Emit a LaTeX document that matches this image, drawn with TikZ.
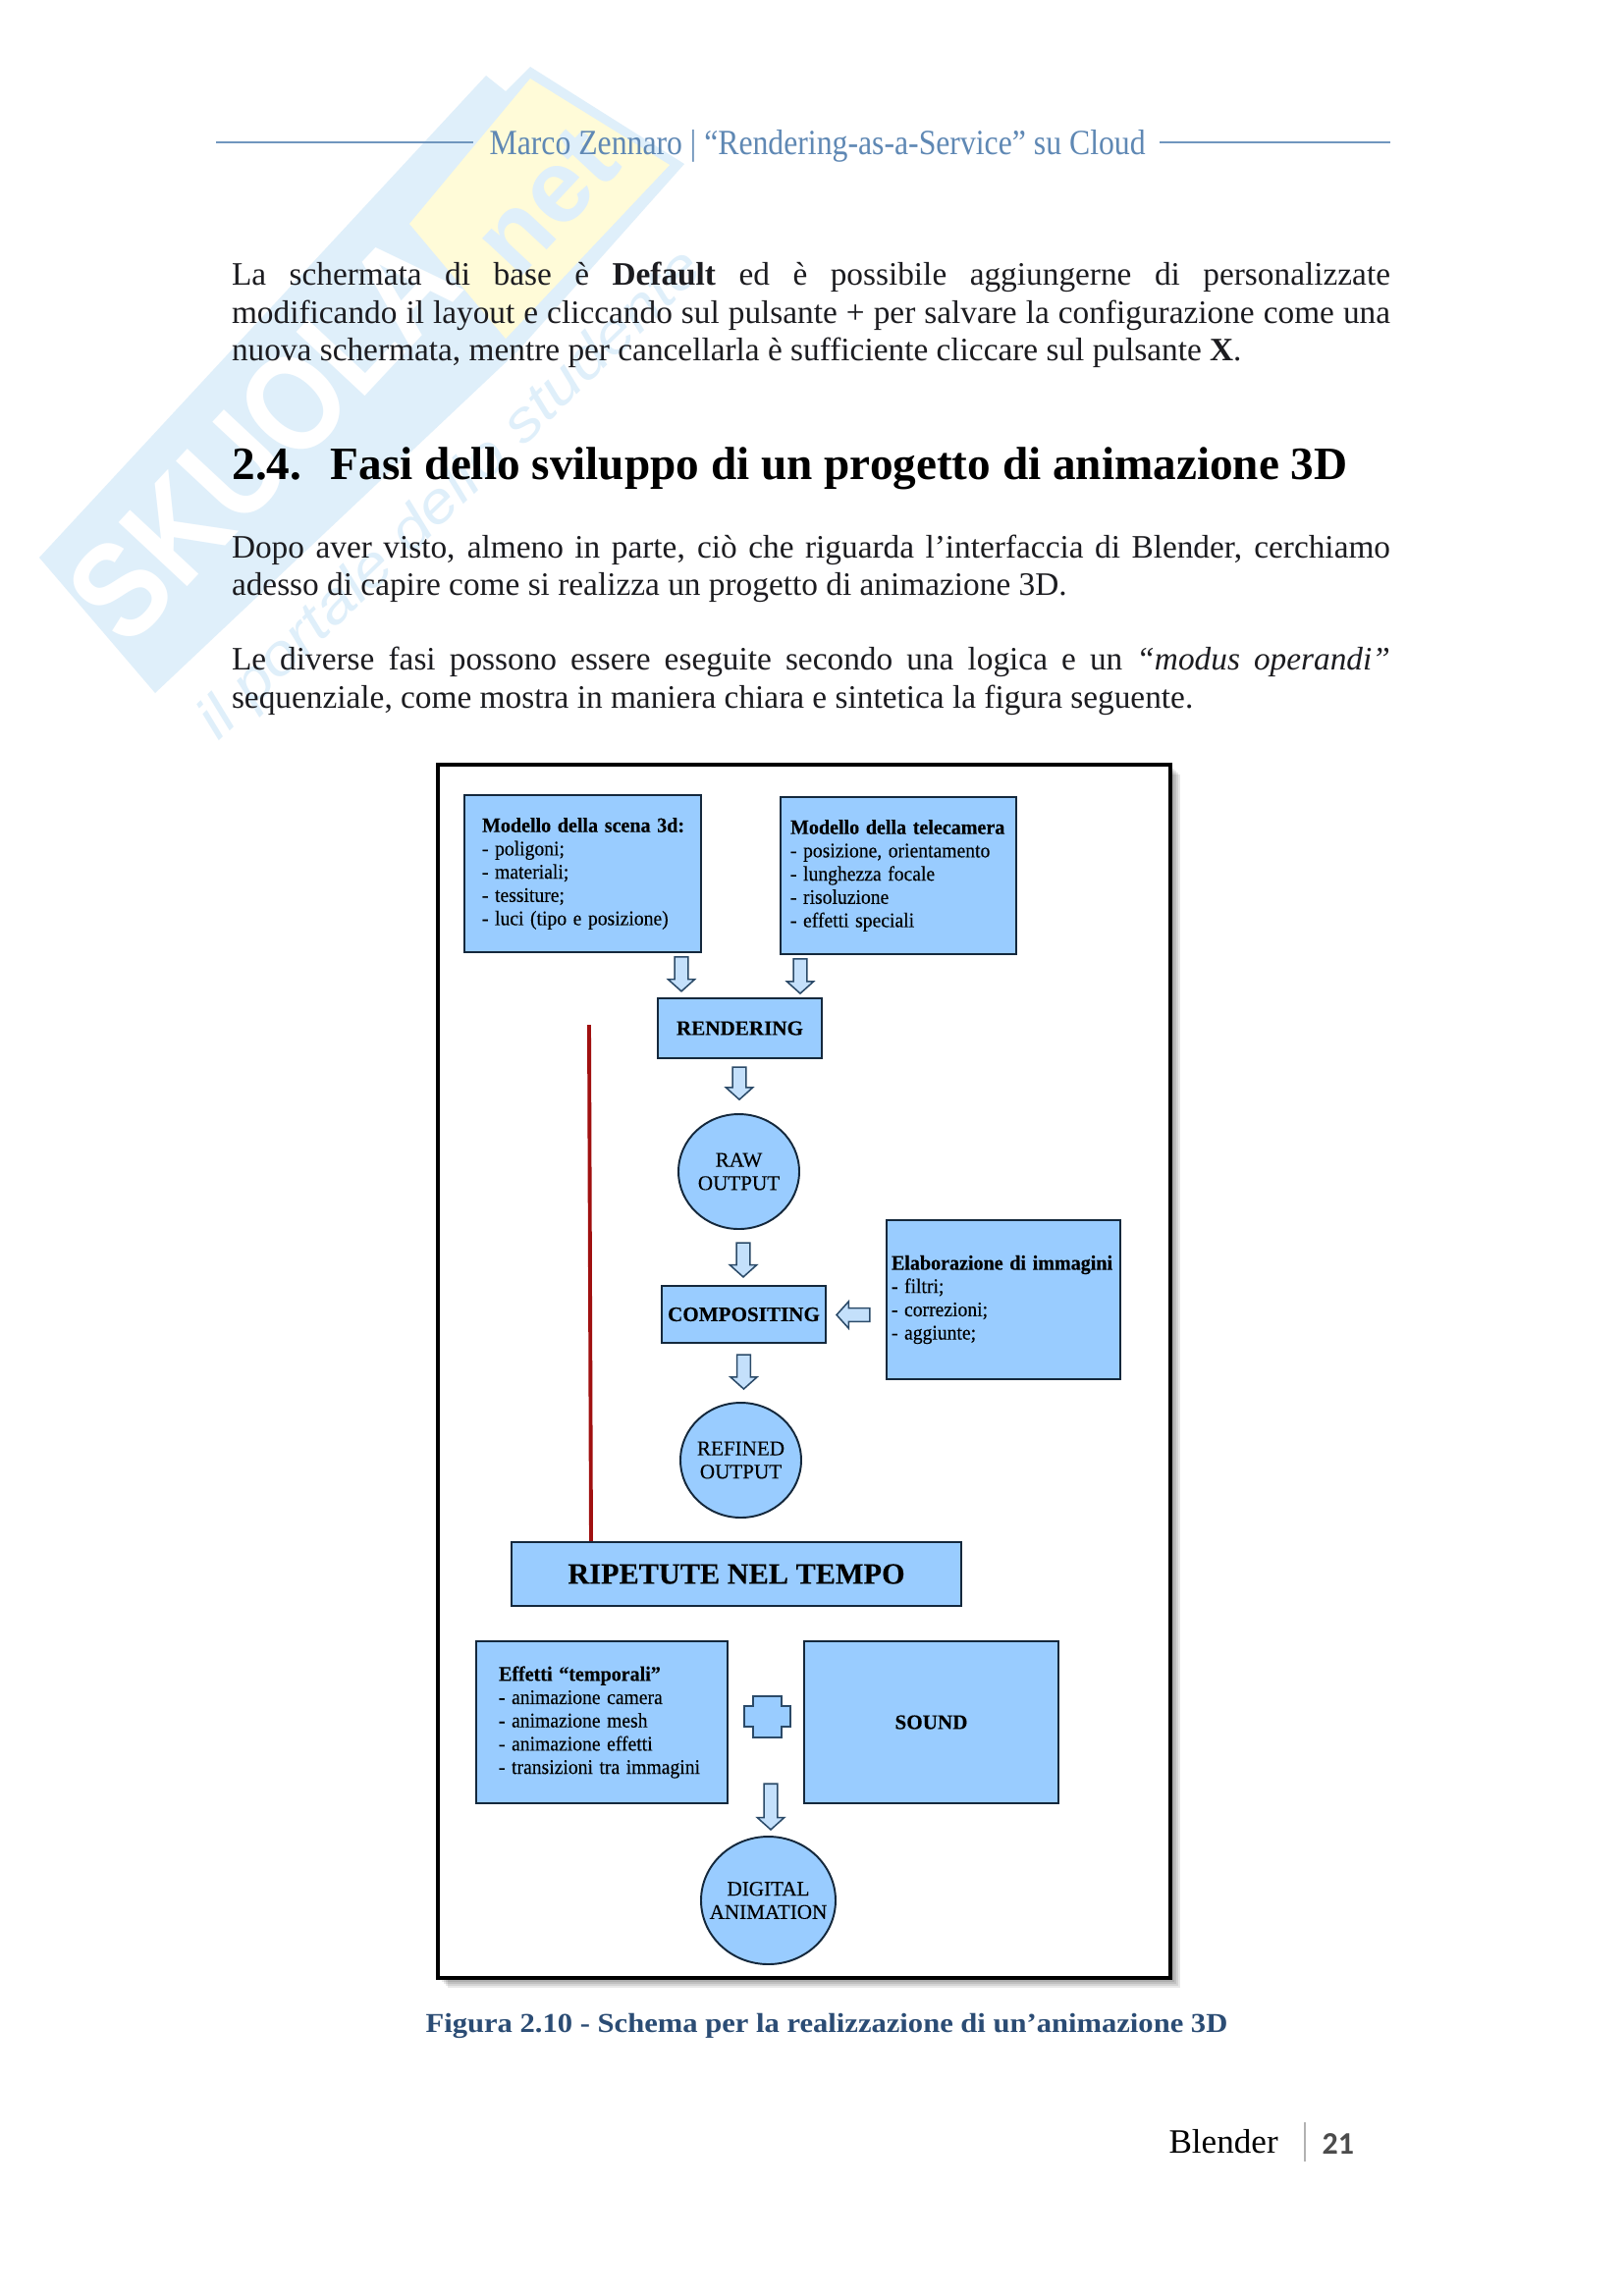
\documentclass[tikz,border=0pt]{standalone}
\usepackage{fontspec}
\usepackage{graphicx}
\setmainfont{Liberation Serif}
\newfontfamily\wmfont{Liberation Sans}
\newfontfamily\pagenum{Carlito}
\newfontfamily\boxrm[FakeBold=0.2]{Liberation Serif}
\usetikzlibrary{shapes.geometric,calc}
\definecolor{boxfill}{HTML}{99CCFF}
\definecolor{boxline}{HTML}{14283C}
\definecolor{arrowfill}{HTML}{C4E0FB}
\definecolor{arrowline}{HTML}{2B4A68}
\definecolor{headblue}{HTML}{5F88B4}
\definecolor{rulecol}{HTML}{7096BE}
\definecolor{wmblue}{HTML}{DFEFFA}
\definecolor{wmyellow}{HTML}{FFFBD8}
\definecolor{capblue}{HTML}{2B4C74}
\definecolor{bodyink}{HTML}{1C1C20}
\definecolor{redline}{HTML}{A01010}
\newcommand{\boxfont}{\boxrm\fontsize{7.6}{8.53}\selectfont}
\newcommand{\sq}[1]{\scalebox{0.93}[1]{#1}}
\newcommand{\sqb}[1]{\scalebox{0.95}[1]{\textbf{#1}}}
\tikzset{
  bodyline/.style={anchor=base west,inner sep=0pt,outer sep=0pt,text=bodyink,font=\fontsize{12}{14}\selectfont},
  bluebox/.style n args={2}{draw=boxline,line width=0.75pt,fill=boxfill,rectangle,inner sep=0pt,align=left,
     font=\boxfont,text=black,minimum width=#1*0.36pt,minimum height=#2*0.36pt},
  blueoval/.style n args={2}{draw=boxline,line width=0.7pt,fill=boxfill,ellipse,inner sep=-8pt,align=center,
     font=\boxfont,text=black,minimum width=#1*0.36pt,minimum height=#2*0.36pt},
  barrow/.style n args={2}{draw=arrowline,line width=0.55pt,fill=arrowfill,line join=miter,
     to path={let \p1=(\tikztostart),\p2=(\tikztotarget),\n1={atan2(\y2-\y1,\x2-\x1)} in
       ([shift={(\n1:#1)},shift={(\n1+90:2.5pt)}]\p1)
       -- ([shift={(\n1:-#2-4.4pt)},shift={(\n1+90:2.5pt)}]\p2)
       -- ([shift={(\n1:-#2-4.4pt)},shift={(\n1+90:4.9pt)}]\p2)
       -- ([shift={(\n1:-#2)}]\p2)
       -- ([shift={(\n1:-#2-4.4pt)},shift={(\n1-90:4.9pt)}]\p2)
       -- ([shift={(\n1:-#2-4.4pt)},shift={(\n1-90:2.5pt)}]\p2)
       -- ([shift={(\n1:#1)},shift={(\n1-90:2.5pt)}]\p1) -- cycle}},
  wmark/.style={inner sep=0pt,outer sep=0pt}
}
\begin{document}
\begin{tikzpicture}[x=0.36pt,y=-0.36pt]
\useasboundingbox[fill=white] (0,0) rectangle (1653,2339);
% watermark
\fill[wmblue] (40,568) -- (495,77) -- (515,93) -- (540,68) -- (697,167) -- (528,357) -- (158,706) -- cycle;
\fill[wmyellow] (540,80) -- (682,168) -- (515,345) -- (417,228) -- cycle;
\node[wmark,text=white,rotate=47,font=\wmfont\bfseries\fontsize{50}{50}\selectfont] (wmskuola) at (268,445) {\scalebox{0.86}[1]{SKUOLA}};
\node[wmark,text=wmblue,rotate=47,font=\wmfont\bfseries\fontsize{38}{38}\selectfont] (wmnet) at (557,205) {net};
\node[wmark,text=wmblue,rotate=44,font=\wmfont\itshape\fontsize{21}{21}\selectfont] (wmsub) at (460,505) {\scalebox{1.15}[1]{il portale dello studente}};
% header
\draw[rulecol,line width=0.75pt] (220,145) -- (482,145);
\draw[rulecol,line width=0.75pt] (1181,145) -- (1416,145);
\node[anchor=base west,inner sep=0pt,text=headblue] (head) at (498,157) {\resizebox{240.5pt}{\height}{\fontsize{13}{15}\selectfont Marco Zennaro | “Rendering-as-a-Service” su Cloud}};
% body
\node[bodyline] (l1) at (236,290) {\hbox to 424.8pt{La schermata di base è \textbf{Default} ed è possibile aggiungerne di personalizzate}};
\node[bodyline] (l2) at (236,329) {\hbox to 424.8pt{modificando il layout e cliccando sul pulsante + per salvare la configurazione come una}};
\node[bodyline] (l3) at (236,367.5) {nuova schermata, mentre per cancellarla è sufficiente cliccare sul pulsante \textbf{X}.};
\node[anchor=base west,inner sep=0pt,text=black,font=\bfseries\fontsize{17}{19}\selectfont] (h24) at (236,488) {2.4.\hspace{5pt} Fasi dello sviluppo di un progetto di animazione 3D};
\node[bodyline] (l4) at (236,568) {\hbox to 424.8pt{Dopo aver visto, almeno in parte, ciò che riguarda l’interfaccia di Blender, cerchiamo}};
\node[bodyline] (l5) at (236,606) {adesso di capire come si realizza un progetto di animazione 3D.};
\node[bodyline] (l6) at (236,682) {\hbox to 424.8pt{Le diverse fasi possono essere eseguite secondo una logica e un \textit{“modus operandi”}}};
\node[bodyline] (l7) at (236,721) {sequenziale, come mostra in maniera chiara e sintetica la figura seguente.};
% frame with soft shadow
\foreach \d in {10,8,6,4,2}{\fill[black,opacity=0.09] (446+\d,779+\d) rectangle (1192+\d,2015+\d);}
\node[draw=black,line width=1.1pt,fill=white,rectangle,inner sep=0pt,minimum width=746*0.36pt,minimum height=1236*0.36pt] (frame) at (819,1397) {};
% boxes
\node[bluebox={241}{160},text width=73.8pt] (scene) at (593.5,890) {\sqb{Modello della scena 3d:}\\\sq{- poligoni;}\\\sq{- materiali;}\\\sq{- tessiture;}\\\sq{- luci (tipo e posizione)}};
\node[bluebox={240}{160},text width=79.2pt] (camera) at (915,892) {\sqb{Modello della telecamera}\\\sq{- posizione, orientamento}\\\sq{- lunghezza focale}\\\sq{- risoluzione}\\\sq{- effetti speciali}};
\node[bluebox={167}{61},align=center] (render) at (753.5,1047.5) {\textbf{RENDERING}};
\node[blueoval={123}{117}] (raw) at (752.5,1193.5) {RAW\\OUTPUT};
\node[bluebox={167}{58},align=center] (comp) at (757.5,1339) {\textbf{COMPOSITING}};
\node[bluebox={238}{162},text width=82.1pt] (elab) at (1022,1324) {\sqb{Elaborazione di immagini}\\\sq{- filtri;}\\\sq{- correzioni;}\\\sq{- aggiunte;}};
\node[blueoval={123}{117}] (refined) at (754.5,1487.5) {REFINED\\OUTPUT};
\node[bluebox={458}{65},align=center,font=\boxrm\bfseries\fontsize{10.9}{12}\selectfont] (ripet) at (750,1603.5) {RIPETUTE NEL TEMPO};
\node[bluebox={256}{165},text width=75.6pt] (effetti) at (613,1754.5) {\sqb{Effetti “temporali”}\\\sq{- animazione camera}\\\sq{- animazione mesh}\\\sq{- animazione effetti}\\\sq{- transizioni tra immagini}};
\node[bluebox={259}{165},align=center] (sound) at (948.5,1754.5) {\textbf{SOUND}};
\node[blueoval={137}{130}] (digital) at (782.5,1936) {DIGITAL\\ANIMATION};
% plus sign
\draw[draw=arrowline,line width=0.55pt,fill=boxfill] (767,1728) -- (796,1728) -- (796,1738) -- (805,1738) -- (805,1759) -- (796,1759) -- (796,1770) -- (767,1770) -- (767,1759) -- (758,1759) -- (758,1738) -- (767,1738) -- cycle;
\coordinate (plusb) at (785,1770);
% arrow axes
\coordinate (ax1) at (694,0);
\coordinate (ax2) at (815,0);
\coordinate (ax3) at (753,0);
\coordinate (ax4) at (757,0);
\coordinate (ax5) at (757.5,0);
\coordinate (ay6) at (0,1339.5);
% block arrows
\draw[barrow={1.4pt}{2.2pt}] (scene.south -| ax1) to (render.north -| ax1);
\draw[barrow={1.4pt}{1.4pt}] (camera.south -| ax2) to (render.north -| ax2);
\draw[barrow={2.9pt}{5pt}] (render.south -| ax3) to (raw.north -| ax3);
\draw[barrow={4.7pt}{2.9pt}] (raw.south -| ax4) to (comp.north -| ax4);
\draw[barrow={4pt}{4.7pt}] (comp.south -| ax5) to (refined.north -| ax5);
\draw[barrow={5.8pt}{3.6pt}] (elab.west |- ay6) to (comp.east |- ay6);
\draw[barrow={17pt}{2.2pt}] (plusb) to (digital.north -| plusb);
% red line
\coordinate (redtop) at (600,1044);
\coordinate (redbot) at (602,1570);
\draw[redline,line width=1.4pt] (redtop) -- (ripet.north -| redbot);
% caption
\node[anchor=base,inner sep=0pt,text=capblue] (caption) at (842,2070) {\resizebox{294pt}{\height}{\bfseries\fontsize{10}{12}\selectfont Figura 2.10 - Schema per la realizzazione di un’animazione 3D}};
% footer
\node[anchor=base west,inner sep=0pt,text=black] (blender) at (1190,2193) {\resizebox{40pt}{\height}{\fontsize{12.5}{14}\selectfont Blender}};
\draw[black!30,line width=0.4pt] (1329,2162) -- (1329,2202);
\node[anchor=base west,inner sep=0pt,text=black!70] (pageno) at (1346,2194) {\pagenum\bfseries\fontsize{11.5}{13}\selectfont 21};
\end{tikzpicture}
\end{document}
